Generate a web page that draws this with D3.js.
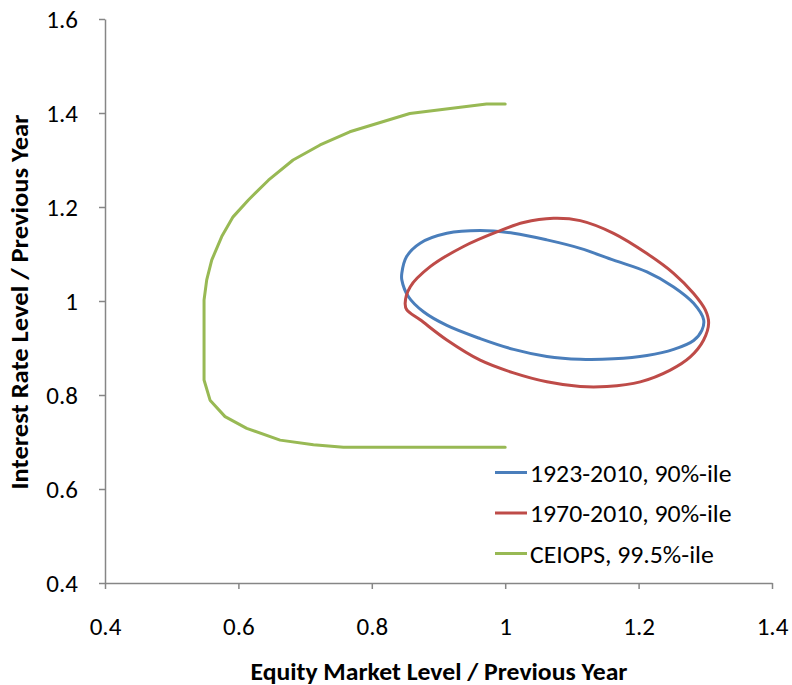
<!DOCTYPE html>
<html>
<head>
<meta charset="utf-8">
<script src="https://cdn.jsdelivr.net/npm/d3@7"></script>
<style>
  html, body { margin: 0; padding: 0; background: #fff; }
  svg text { font-family: Carlito, Lato, "Open Sans", sans-serif; fill: #000; }
</style>
</head>
<body>
<svg id="chart" width="792" height="685"></svg>
<script>
// Joint stress contours: equity level change vs. interest rate level change
const seriesNames = ["1923-2010, 90%-ile", "1970-2010, 90%-ile", "CEIOPS, 99.5%-ile"];
const seriesColors = ["#4a7ebb", "#be4b48", "#98b954"];

const blueX = [0.845, 0.852, 0.8725, 0.9125, 0.9625, 1.0125, 1.0625, 1.1125, 1.1625, 1.2125, 1.2525, 1.2825, 1.2975, 1.295, 1.2825, 1.2525, 1.2125, 1.1625, 1.1125, 1.0625, 1.0125, 0.9625, 0.9125, 0.8775, 0.855, 0.845];
const blueY = [1.059, 1.094, 1.123, 1.144, 1.150, 1.144, 1.130, 1.112, 1.087, 1.062, 1.030, 0.995, 0.960, 0.938, 0.916, 0.897, 0.884, 0.877, 0.876, 0.882, 0.897, 0.920, 0.948, 0.977, 1.009, 1.045];

const redX = [0.85, 0.8575, 0.8875, 0.9375, 0.9875, 1.0275, 1.0725, 1.1125, 1.1625, 1.2125, 1.2525, 1.2825, 1.30, 1.305, 1.2975, 1.2775, 1.2475, 1.2025, 1.1525, 1.1125, 1.0625, 1.0125, 0.9625, 0.9125, 0.8725, 0.8525];
const redY = [0.995, 1.030, 1.073, 1.116, 1.147, 1.167, 1.176, 1.171, 1.144, 1.101, 1.059, 1.016, 0.981, 0.953, 0.917, 0.881, 0.853, 0.828, 0.818, 0.818, 0.828, 0.847, 0.874, 0.917, 0.960, 0.981];

const greenX = [1.0, 0.972, 0.857, 0.767, 0.7225, 0.682, 0.645, 0.615, 0.592, 0.575, 0.56, 0.5525, 0.5485, 0.5485, 0.5575, 0.58, 0.6125, 0.6625, 0.7125, 0.7575, 1.0];
const greenY = [1.419, 1.419, 1.399, 1.360, 1.332, 1.300, 1.257, 1.215, 1.179, 1.137, 1.087, 1.045, 1.002, 0.832, 0.789, 0.754, 0.729, 0.704, 0.694, 0.689, 0.689];

const xTicks = [0.4, 0.6, 0.8, 1.0, 1.2, 1.4];
const yTicks = [0.4, 0.6, 0.8, 1.0, 1.2, 1.4, 1.6];
const xTitle = "Equity Market Level / Previous Year";
const yTitle = "Interest Rate Level / Previous Year";

const svg = d3.select("#chart");
const x = d3.scaleLinear().domain([0.4, 1.4]).range([105, 772]);
const y = d3.scaleLinear().domain([0.4, 1.6]).range([583, 19]);
const fmt = d => (d === 1 ? "1" : d3.format(".1f")(d));
const axisColor = "#868686";

// Axes
const gx = svg.append("g").attr("transform", `translate(0,${y(0.4)})`)
  .call(d3.axisBottom(x).tickValues(xTicks).tickFormat(fmt).tickSize(6).tickSizeOuter(0).tickPadding(28));
const gy = svg.append("g").attr("transform", `translate(${x(0.4)},0)`)
  .call(d3.axisLeft(y).tickValues(yTicks).tickFormat(fmt).tickSize(6).tickSizeOuter(0).tickPadding(21));
[gx, gy].forEach(g => {
  g.select(".domain").attr("stroke", axisColor).attr("stroke-width", 1.5);
  g.selectAll(".tick line").attr("stroke", axisColor).attr("stroke-width", 1.5);
  g.selectAll(".tick text").attr("font-size", 25).attr("fill", "#000")
    .style("font-family", "Carlito, Lato, 'Open Sans', sans-serif");
});

// Series: two closed contours and one open CEIOPS boundary
const series = [
  { xs: blueX, ys: blueY, closed: true },
  { xs: redX, ys: redY, closed: true },
  { xs: greenX, ys: greenY, closed: false }
];
series.forEach((s, i) => {
  const pts = s.xs.map((v, j) => [v, s.ys[j]]);
  const line = d3.line().x(d => x(d[0])).y(d => y(d[1]))
    .curve(s.closed ? d3.curveCatmullRomClosed.alpha(0.5) : d3.curveLinear);
  svg.append("path").datum(pts)
    .attr("d", line)
    .attr("fill", "none").attr("stroke", seriesColors[i])
    .attr("stroke-width", 3).attr("stroke-linejoin", "round").attr("stroke-linecap", "round");
});

// Legend
const legend = svg.append("g");
seriesNames.forEach((name, i) => {
  const yy = 472.5 + i * 40.5;
  legend.append("line").attr("x1", 495).attr("x2", 527).attr("y1", yy).attr("y2", yy)
    .attr("stroke", seriesColors[i]).attr("stroke-width", 3);
  legend.append("text").attr("x", 530).attr("y", yy).attr("dy", "0.36em")
    .attr("font-size", 25).text(name);
});
legend.selectAll("text").each(function () {
  const w = this.getComputedTextLength();
  d3.select(this).attr("textLength", w * 1.03).attr("lengthAdjust", "spacingAndGlyphs");
});

// Axis titles
svg.append("text").attr("x", 439).attr("y", 680).attr("text-anchor", "middle")
  .attr("font-size", 24).attr("font-weight", "bold").attr("textLength", 377)
  .attr("lengthAdjust", "spacingAndGlyphs").text(xTitle);
svg.append("text").attr("transform", `translate(28,302) rotate(-90)`).attr("text-anchor", "middle")
  .attr("font-size", 24).attr("font-weight", "bold").attr("textLength", 375)
  .attr("lengthAdjust", "spacingAndGlyphs").text(yTitle);
</script>
</body>
</html>
